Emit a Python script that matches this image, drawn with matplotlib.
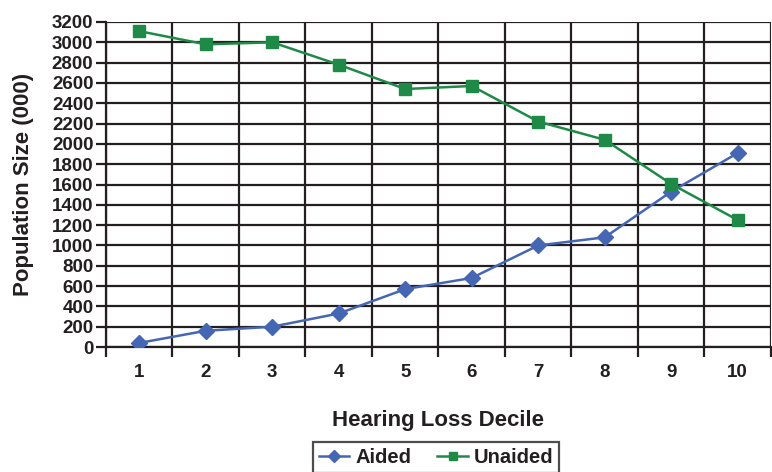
import matplotlib
matplotlib.use("Agg")
import matplotlib.pyplot as plt

deciles = [1, 2, 3, 4, 5, 6, 7, 8, 9, 10]
aided = [40, 160, 200, 330, 570, 680, 1000, 1080, 1530, 1910]
unaided = [3110, 2980, 3000, 2780, 2540, 2570, 2220, 2040, 1605, 1250]
y_ticks = list(range(0, 3201, 200))

plt.rcParams['font.family'] = ['Liberation Sans', 'DejaVu Sans']
plt.rcParams['font.weight'] = 'bold'

DARK = '#231f20'
BLUE = '#4566b2'
GREEN = '#1f8a47'

fig = plt.figure(figsize=(7.72, 4.72), dpi=100)
ax = fig.add_axes([0.1373, 0.2648, 0.8614, 0.6886])

ax.plot(deciles, aided, color=BLUE, linewidth=1.8, marker='D', markersize=8.5, label='Aided', zorder=3)
ax.plot(deciles, unaided, color=GREEN, linewidth=1.8, marker='s', markersize=8.5, label='Unaided', zorder=3)

ax.set_xlim(0.5, 10.5)
ax.set_ylim(0, 3200)
ax.set_xticks(deciles)
ax.set_xticks([d - 0.5 for d in deciles] + [10.5], minor=True)
ax.set_yticks(y_ticks)

ax.grid(True, axis='y', which='major', color=DARK, linewidth=1.6)
ax.grid(True, axis='x', which='minor', color=DARK, linewidth=1.6)
ax.set_axisbelow(True)

ax.tick_params(axis='x', which='major', length=0, pad=12, labelsize=13.5, colors=DARK)
ax.tick_params(axis='x', which='minor', length=7, width=1.6, direction='out', color=DARK)
ax.tick_params(axis='y', length=7, width=1.6, direction='out', pad=2, labelsize=13.5, colors=DARK)

for side in ['top', 'right']:
    ax.spines[side].set_visible(False)
for side in ['left', 'bottom']:
    ax.spines[side].set_color(DARK)
    ax.spines[side].set_linewidth(1.6)

ax.set_xlabel('Hearing Loss Decile', fontsize=16, fontweight='bold', color=DARK, labelpad=21)
ax.set_ylabel('Population Size (000)', fontsize=16, fontweight='bold', color=DARK, labelpad=13)

leg = fig.legend(loc='upper center', bbox_to_anchor=(0.565, 0.064), ncol=2, frameon=True,
                 fancybox=False, edgecolor=DARK, fontsize=14.5, handlelength=1.5,
                 columnspacing=1.3, handletextpad=0.3, borderpad=0.3, borderaxespad=0,
                 markerscale=0.7)
leg.get_frame().set_linewidth(1.6)
for t in leg.get_texts():
    t.set_color(DARK)

fig.savefig('out.png', dpi=100)
